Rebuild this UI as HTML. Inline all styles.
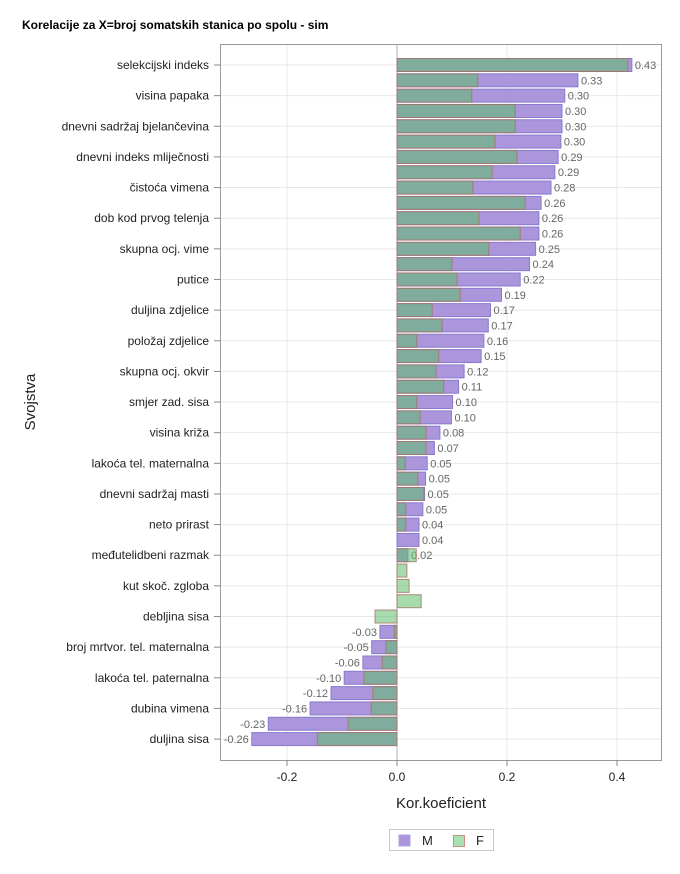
<!DOCTYPE html>
<html><head><meta charset="utf-8"><style>
body{margin:0;background:#fff;font-family:"Liberation Sans",sans-serif}
svg text{font-family:"Liberation Sans",sans-serif}
</style></head><body>
<svg id="chart" width="680" height="869" xmlns="http://www.w3.org/2000/svg">
<text x="22" y="29" font-size="12" font-weight="bold" fill="#000">Korelacije za X=broj somatskih stanica po spolu - sim</text>
<rect x="220.5" y="44.5" width="441" height="716" fill="none" stroke="#9a9a9a"/>
<g id="grid"></g><g id="bars"></g><g id="axes"></g>
<text transform="translate(35,402) rotate(-90)" text-anchor="middle" font-size="15" fill="#222">Svojstva</text>
<text x="441" y="808" text-anchor="middle" font-size="15" fill="#222">Kor.koeficient</text>
<g>
<rect x="389.5" y="829.5" width="104" height="21" fill="#fff" stroke="#c8c8c8"/>
<rect x="399" y="835" width="11" height="11" fill="#ab96dc" stroke="#b0a0e0"/>
<text x="422" y="845" font-size="13" fill="#222">M</text>
<rect x="453.5" y="835.5" width="11" height="11" fill="#a8e2b2" stroke="#d08a80"/>
<text x="476" y="845" font-size="13" fill="#222">F</text>
</g>
</svg>
<script>
const categories=["selekcijski indeks","","visina papaka","","dnevni sadržaj bjelančevina","","dnevni indeks mliječnosti","","čistoća vimena","","dob kod prvog telenja","","skupna ocj. vime","","putice","","duljina zdjelice","","položaj zdjelice","","skupna ocj. okvir","","smjer zad. sisa","","visina križa","","lakoća tel. maternalna","","dnevni sadržaj masti","","neto prirast","","međutelidbeni razmak","","kut skoč. zgloba","","debljina sisa","","broj mrtvor. tel. maternalna","","lakoća tel. paternalna","","dubina vimena","","duljina sisa"];
const valuesM=[0.427,0.329,0.305,0.300,0.300,0.298,0.293,0.287,0.280,0.262,0.258,0.258,0.252,0.241,0.224,0.19,0.17,0.166,0.158,0.153,0.122,0.112,0.101,0.099,0.078,0.068,0.055,0.052,0.05,0.047,0.04,0.04,0.02,null,null,null,null,-0.031,-0.046,-0.062,-0.096,-0.12,-0.158,-0.234,-0.264];
const labelsM=["0.43","0.33","0.30","0.30","0.30","0.30","0.29","0.29","0.28","0.26","0.26","0.26","0.25","0.24","0.22","0.19","0.17","0.17","0.16","0.15","0.12","0.11","0.10","0.10","0.08","0.07","0.05","0.05","0.05","0.05","0.04","0.04","0.02","","","","","-0.03","-0.05","-0.06","-0.10","-0.12","-0.16","-0.23","-0.26"];
const valuesF=[0.42,0.147,0.136,0.215,0.215,0.178,0.218,0.173,0.138,0.233,0.149,0.224,0.167,0.1,0.109,0.115,0.064,0.082,0.036,0.076,0.071,0.085,0.036,0.042,0.053,0.053,0.015,0.038,0.049,0.016,0.016,null,0.035,0.018,0.022,0.044,-0.04,-0.005,-0.02,-0.027,-0.06,-0.044,-0.047,-0.089,-0.145];
const xTicks=[-0.2,0,0.2,0.4];
const xTickLabels=["-0.2","0.0","0.2","0.4"];
const NS="http://www.w3.org/2000/svg";
const x=v=>397+v*550;
const y=i=>65+i*15.32;
function mk(tag,attrs,parent,text){const e=document.createElementNS(NS,tag);for(const k in attrs)e.setAttribute(k,attrs[k]);if(text!==undefined)e.textContent=text;parent.appendChild(e);return e;}
const grid=document.getElementById('grid'),bars=document.getElementById('bars'),axes=document.getElementById('axes');
xTicks.forEach((t,j)=>{
 const gl=mk('line',{x1:x(t),x2:x(t),y1:45,y2:760,stroke:t===0?'#b0b0b0':'#e8e8e8','stroke-width':1},grid);
 
 
 const tk=mk('line',{x1:x(t),x2:x(t),y1:760,y2:766,stroke:'#888'},axes);
 
 
 const tl=mk('text',{x:x(t),y:781,'text-anchor':'middle','font-size':12,fill:'#222'},axes,xTickLabels[j]);
 
 
});
categories.forEach((c,i)=>{
 if(!c)return;
 const gl=mk('line',{x1:221,x2:661,y1:y(i),y2:y(i),stroke:'#e8e8e8'},grid);
 
 
 const tk=mk('line',{x1:214,x2:220,y1:y(i),y2:y(i),stroke:'#888'},axes);
 
 
 const tl=mk('text',{x:209,y:y(i)+4,'text-anchor':'end','font-size':12,fill:'#222'},axes,c);
 
 
});
valuesM.forEach((v,i)=>{
 if(v===null)return;
 const x0=Math.min(x(0),x(v)),w=Math.abs(x(v)-x(0));
 const r=mk('rect',{x:x0,y:y(i)-6.5,width:w,height:13,fill:'#ab96dc',stroke:'#8a78d0','stroke-width':1},bars);
 
 
 const t=mk('text',{x:v>=0?x(v)+3:x(v)-3,y:y(i)+4,'text-anchor':v>=0?'start':'end','font-size':11,fill:'#666'},bars,labelsM[i]);
 
 
});
valuesF.forEach((v,i)=>{
 if(v===null)return;
 const x0=Math.min(x(0),x(v)),w=Math.abs(x(v)-x(0));
 const r=mk('rect',{x:x0,y:y(i)-6.5,width:w,height:13,fill:'#5cc06a','fill-opacity':0.55,stroke:'#a87060','stroke-opacity':0.8,'stroke-width':1},bars);
 
 
});
</script>
</body></html>
